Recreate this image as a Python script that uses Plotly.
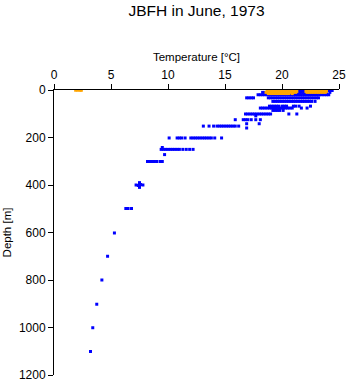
import plotly.graph_objects as go

# Blue: all temperature observations (T in degC, depth in m)
row_0 = [19.0, 19.2, 19.4, 19.6, 19.8, 20.0, 20.2, 20.4, 20.6, 20.8, 21.0, 21.2, 21.4, 21.6, 21.8, 22.0,
         22.2, 22.4, 22.6, 22.8, 23.0, 23.2, 23.4, 23.6, 23.8, 24.0, 24.2, 24.4]
row_10 = [18.3, 18.5, 18.7, 18.9, 19.1, 19.3, 19.5, 19.7, 19.9, 20.1, 20.3, 20.5, 20.7, 20.9, 21.1, 21.3,
          21.5, 21.7, 21.9, 22.1, 22.3, 22.5, 22.7, 22.9, 23.1, 23.3, 23.5, 23.7, 23.9, 24.2]
row_20 = [17.9, 18.1, 18.3, 18.5, 18.7, 18.9, 19.1, 19.3, 19.5, 19.7, 19.9, 20.1, 20.3, 20.5, 20.7, 20.9,
          21.1, 21.3, 21.5, 21.7, 21.9, 22.1, 22.3, 22.5, 22.7, 22.9, 23.1, 23.3, 23.5, 23.7, 23.9, 24.1]
row_33 = [16.9, 17.1, 17.3, 17.5, 18.8, 19.0, 19.2, 19.4, 19.6, 19.8, 20.0, 20.2, 20.4, 20.6, 20.8, 21.0,
          21.2, 21.4, 21.6, 21.8, 22.0, 22.2, 22.4, 22.6, 22.8, 23.0, 23.2]
row_48 = [19.2, 19.4, 19.6, 19.8, 20.0, 20.2, 20.4, 20.6, 20.8, 21.0, 21.2, 21.4, 21.6, 21.8, 22.0, 22.2,
          22.4, 22.6, 22.9]
row_68 = [18.9, 19.1, 19.3, 19.5, 19.7, 20.0, 20.2, 20.4, 21.0, 21.2, 21.5, 22.5]
row_76 = [18.1, 18.3, 18.5, 18.7, 18.9, 19.1, 19.3, 19.5, 19.7, 19.9, 20.1, 20.3, 20.5, 20.7, 20.9, 21.7, 22.2]
row_86 = [19.2, 19.4, 19.6, 19.8, 20.1]
row_101 = [16.8, 17.0, 17.2, 17.4, 17.6, 17.8, 18.0, 18.2, 18.4, 18.6, 18.8, 19.0, 20.6, 21.3]
row_125 = [15.9, 16.6, 16.8, 17.0, 17.3, 17.7, 18.1]
row_152 = [13.1, 13.6, 14.0, 14.3, 14.5, 14.7, 14.9, 15.1, 15.3, 15.5, 15.7, 15.9, 16.2]
row_202 = [10.1, 10.8, 11.0, 11.2, 11.5, 12.0, 12.2, 12.4, 12.6, 12.8, 13.0, 13.2, 13.4, 13.6, 13.8, 14.1, 14.7]
row_250 = [9.4, 9.6, 9.8, 10.0, 10.2, 10.4, 10.6, 10.8, 11.0, 11.3, 11.6, 11.9, 12.2]
row_301 = [8.2, 8.4, 8.6, 8.8, 9.0, 9.3, 9.5]
row_400 = [7.2, 7.4, 7.6, 7.8, 7.5, 7.5]
row_500 = [6.3, 6.5, 6.8]
deep_temp = [17.7, 16.9, 18.0, 16.9, 9.5, 9.7, 5.3, 4.7, 4.2, 3.75, 3.4, 3.2]
deep_depth = [109, 142, 142, 160, 242, 272, 602, 700, 800, 902, 1001, 1101]

rows = [(row_0, 2), (row_10, 10), (row_20, 20), (row_33, 33), (row_48, 48), (row_68, 68),
        (row_76, 76), (row_86, 86), (row_101, 101), (row_125, 125), (row_152, 152),
        (row_202, 202), (row_250, 250), (row_301, 301), (row_500, 499)]
blue_temp, blue_depth = [], []
for temps, d in rows:
    blue_temp += temps
    blue_depth += [d] * len(temps)
blue_temp += row_400
blue_depth += [400, 402, 398, 400, 390, 410]
blue_temp += deep_temp
blue_depth += deep_depth

# Orange: flagged near-surface observations
orange_surface = [1.9, 2.1, 2.3, 2.4]
orange_row_a = [18.7, 18.9, 19.1, 19.3, 19.5, 19.7, 19.9, 20.1, 20.3, 20.5, 20.7, 20.9, 21.1, 21.3,
                22.1, 22.3, 22.5, 22.7, 22.9, 23.1, 23.3, 23.5, 23.7, 23.9]
orange_row_b = [18.6, 18.8, 19.0, 19.2, 19.4, 19.6, 19.8, 20.0, 20.2, 20.4, 20.6, 20.8, 21.0, 21.2,
                22.2, 22.4, 22.6, 22.8, 23.0, 23.2, 23.4, 23.6, 23.8]
orange_row_c = [18.8, 19.0, 19.2, 19.4, 19.6, 19.8, 20.0, 20.2, 20.4, 20.6, 20.9]
orange_temp = orange_surface + orange_row_a + orange_row_b + orange_row_c
orange_depth = ([1] * len(orange_surface) + [6] * len(orange_row_a)
                + [10] * len(orange_row_b) + [15] * len(orange_row_c))

fig = go.Figure()
fig.add_trace(go.Scatter(x=blue_temp, y=blue_depth, mode="markers",
                         marker=dict(symbol="square", size=3, color="#0000FF", line=dict(width=0)),
                         showlegend=False, hoverinfo="x+y"))
fig.add_trace(go.Scatter(x=orange_temp, y=orange_depth, mode="markers",
                         marker=dict(symbol="square", size=3, color="#FFA500", line=dict(width=0)),
                         showlegend=False, hoverinfo="x+y"))

font = "Liberation Sans, Arial, sans-serif"
fig.update_layout(
    width=348, height=384,
    margin=dict(l=54, r=9, t=90, b=9, autoexpand=False),
    paper_bgcolor="white", plot_bgcolor="white",
    font=dict(family=font, size=12, color="black"),
    title=dict(text="JBFH in June, 1973", xref="paper", x=0.5, xanchor="center",
               yref="container", y=1 - 11 / 384, yanchor="middle",
               font=dict(family=font, size=15.5, color="black")),
    xaxis=dict(side="top", range=[0, 25], tickvals=[0, 5, 10, 15, 20, 25], automargin=False,
               showgrid=False, zeroline=False, showline=True, linecolor="black", linewidth=1,
               ticks="outside", ticklen=5, tickcolor="black",
               title=dict(text="Temperature [°C]", standoff=4, font=dict(size=11.5)),
               tickfont=dict(size=12)),
    yaxis=dict(range=[1200, 0], tickvals=[0, 200, 400, 600, 800, 1000, 1200], automargin=False,
               showgrid=False, zeroline=False, showline=True, linecolor="black", linewidth=1,
               ticks="outside", ticklen=5, tickcolor="black",
               title=dict(text="Depth [m]", standoff=4, font=dict(size=11.5)),
               tickfont=dict(size=12)),
)
fig.write_html("out.html")
